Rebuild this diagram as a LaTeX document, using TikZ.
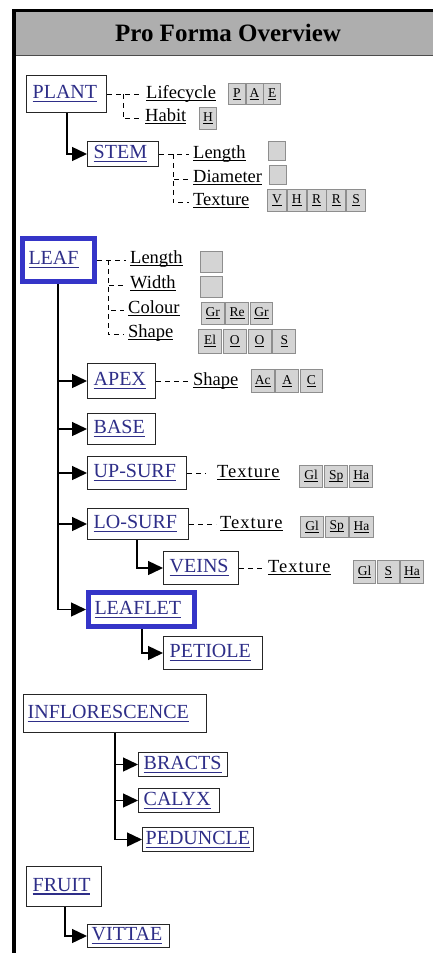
\documentclass[tikz,border=0pt]{standalone}
\usepackage{fontspec}
\setmainfont{Liberation Serif}
\usetikzlibrary{arrows.meta,calc}

\definecolor{linkblue}{HTML}{2E2E88}
\definecolor{frameblue}{HTML}{3535C8}
\definecolor{headgrey}{HTML}{AEAEAE}
\definecolor{cellfill}{HTML}{D4D4D4}
\definecolor{celledge}{HTML}{8E8E8E}

% text with a rule under it, in the current colour
\newcommand\undl[1]{\leavevmode\setbox0\hbox{#1}\rlap{\vrule height -0.11em depth 0.18em width \wd0}\box0}
\newcommand\lnk[1]{\color{linkblue}\undl{#1}}
\newcommand\namefont{\fontsize{20}{22}\selectfont}
\newcommand\attrfont{\fontsize{18.5}{21}\selectfont}
\newcommand\widefont{\addfontfeatures{LetterSpace=5.5}}
\newcommand\cellfont{\fontsize{13.5}{15}\selectfont}
\newcommand\headfont{\fontsize{25}{28}\selectfont\bfseries}

\tikzset{
  nbox/.style={draw=black!85, line width=1.4pt, fill=white, anchor=north west,
    inner xsep=6pt, inner ysep=0pt, align=left, font=\namefont},
  hibox/.style={nbox, draw=frameblue, line width=5pt},
  attr/.style={anchor=base west, inner xsep=4pt, inner ysep=1pt, font=\attrfont},
  cellbox/.style={draw=celledge, fill=cellfill, line width=0.9pt, anchor=north west,
    inner sep=0pt, font=\cellfont},
  trunk/.style={line width=1.4pt, draw=black},
  arr/.style={trunk, -{Triangle[length=15pt,width=14pt]}},
  dsh/.style={line width=1pt, dash pattern=on 5pt off 4pt},
}

% a row of value cells: name, x, y, pitch, width, height, letters
\newcommand\cellrow[7]{%
  \foreach \cv [count=\ci from 0] in {#7}{%
    \node[cellbox, minimum width=#5pt, minimum height=#6pt] (#1\ci) at ({#2+\ci*#4},#3) {\undl{\cv}};
  }%
}

\begin{document}
\begin{tikzpicture}[x=1pt, y=-1pt]
\useasboundingbox (0,0) rectangle (433,953);
\fill[white] (0,0) rectangle (433,953);

% frame and title bar
\fill[headgrey] (16,11.5) rectangle (433,55);
\draw[black!70, line width=1pt] (16,55.5) -- (433,55.5);
\fill[black] (12,9) rectangle (433,11.5);
\fill[black] (12,9) rectangle (16,953);
\node[font=\headfont] (title) at (228,33) {Pro Forma Overview};

% ---------- PLANT ----------
\node[nbox, text width=67.6pt, minimum height=36.6pt] (plant) at (26,75) {\lnk{PLANT}};
\node[nbox, text width=58.6pt, minimum height=24.6pt] (stem) at (87,141) {\lnk{STEM}};

\node[attr] (lifecycle) at (142,98) {\undl{Lifecycle}};
\node[attr] (habit) at (141,121) {\undl{Habit}};
\draw[dsh] (plant.east) -- (plant.east -| lifecycle.west);
\draw[dsh] ($(plant.east)+(16,0)$) |- (habit.mid west);
\cellrow{lifec}{228}{83}{17.7}{16.8}{21}{P,A,E}
\cellrow{habc}{199}{107}{18}{17}{22}{H}

\draw[arr] ($(plant.south west)+(41,0)$) |- (stem.west);

\node[attr] (stemlen) at (189,158) {\undl{Length}};
\node[attr] (stemdia) at (189,182) {\undl{Diameter}};
\node[attr] (stemtex) at (189,205) {\undl{Texture}};
\draw[dsh] (stem.east) -- (stem.east -| stemlen.west);
\draw[dsh] ($(stem.east)+(14,0)$) |- (stemdia.mid west);
\draw[dsh] ($(stem.east)+(14,0)$) |- (stemtex.mid west);
\node[cellbox, minimum width=17pt, minimum height=19pt] (stemlenv) at (268,141) {};
\node[cellbox, minimum width=17pt, minimum height=19pt] (stemdiav) at (269,165) {};
\cellrow{stemtexc}{267}{189}{19.8}{18.9}{22}{V,H,R,R,S}

% ---------- LEAF ----------
\node[hibox, text width=60pt, minimum height=43pt] (leaf) at (20,236) {\lnk{LEAF}};
\node[attr] (leaflen) at (126,263) {\undl{Length}};
\node[attr] (leafwid) at (126,288) {\undl{Width}};
\node[attr] (leafcol) at (124,313) {\undl{Colour}};
\node[attr] (leafshp) at (124,337) {\undl{Shape}};
\draw[dsh] (leaf.east) -- (leaf.east -| leaflen.west);
\draw[dsh] ($(leaf.east)+(11,0)$) |- (leafwid.mid west);
\draw[dsh] ($(leaf.east)+(11,0)$) |- (leafcol.mid west);
\draw[dsh] ($(leaf.east)+(11,0)$) |- (leafshp.mid west);
\node[cellbox, minimum width=22pt, minimum height=21pt] (leaflenv) at (200,251) {};
\node[cellbox, minimum width=22pt, minimum height=21pt] (leafwidv) at (200,276) {};
\cellrow{leafcolc}{201}{302}{24.3}{22.8}{22}{Gr,Re,Gr}
\cellrow{leafshpc}{198}{329}{24.75}{23.2}{24}{El,O,O,S}

\node[nbox, text width=55.6pt, minimum height=34.6pt] (apex) at (87,363) {\lnk{APEX}};
\node[nbox, text width=55.6pt, minimum height=30.6pt] (base) at (87,413) {\lnk{BASE}};
\node[nbox, text width=86.6pt, minimum height=32.6pt] (upsurf) at (87,456) {\lnk{UP-SURF}};
\node[nbox, text width=88.6pt, minimum height=30.6pt] (losurf) at (87,508) {\lnk{LO-SURF}};
\node[nbox, text width=62.6pt, minimum height=32.6pt] (veins) at (163,551) {\lnk{VEINS}};
\node[hibox, text width=94pt, minimum height=34pt] (leaflet) at (86,590) {\lnk{LEAFLET}};
\node[nbox, text width=86.6pt, minimum height=32.6pt] (petiole) at (163,636) {\lnk{PETIOLE}};

\coordinate (leaftrunk) at ($(leaf.south west)+(38,0)$);
\draw[arr] (leaftrunk) |- (leaflet.west);
\draw[arr] (leaftrunk |- apex.west) -- (apex.west);
\draw[arr] (leaftrunk |- base.west) -- (base.west);
\draw[arr] (leaftrunk |- upsurf.west) -- (upsurf.west);
\draw[arr] (leaftrunk |- losurf.west) -- (losurf.west);
\draw[arr] ($(losurf.south west)+(50,0)$) |- (veins.west);
\draw[arr] ($(leaflet.south west)+(56,0)$) |- (petiole.west);

\node[attr] (apexshp) at (189,385) {\undl{Shape}};
\draw[dsh] (apex.east) -- (apex.east -| apexshp.west);
\cellrow{apexc}{251}{369}{24.3}{22.8}{23}{Ac,A,C}

\node[attr] (uptex) at (213,477) {\widefont\undl{Texture}};
\draw[dsh] (upsurf.east) -- ($(upsurf.east)+(19,0)$);
\cellrow{upc}{299}{465}{25}{23.4}{22}{Gl,Sp,Ha}

\node[attr] (lotex) at (216,528) {\widefont\undl{Texture}};
\draw[dsh] (losurf.east) -- (losurf.east -| lotex.west);
\cellrow{loc}{300}{516}{24.7}{23.2}{21}{Gl,Sp,Ha}

\node[attr] (veintex) at (264,572) {\widefont\undl{Texture}};
\draw[dsh] (veins.east) -- (veins.east -| veintex.west);
\cellrow{veinc}{353}{560}{23.7}{22.2}{23}{Gl,S,Ha}

% ---------- INFLORESCENCE ----------
\node[nbox, inner xsep=4pt, text width=174.6pt, minimum height=37.6pt] (inflor) at (23,694) {\lnk{INFLORESCENCE}};
\node[nbox, inner xsep=5pt, text width=78.6pt, minimum height=23.6pt] (bracts) at (138,752) {\lnk{BRACTS}};
\node[nbox, inner xsep=5pt, text width=70.6pt, minimum height=23.6pt] (calyx) at (138,788) {\lnk{CALYX}};
\node[nbox, inner xsep=3pt, text width=104.6pt, minimum height=23.6pt] (peduncle) at (142,827) {\lnk{PEDUNCLE}};
\coordinate (inftrunk) at ($(inflor.south west)+(92,0)$);
\draw[arr] (inftrunk) |- (peduncle.west);
\draw[arr] (inftrunk |- bracts.west) -- (bracts.west);
\draw[arr] (inftrunk |- calyx.west) -- (calyx.west);

% ---------- FRUIT ----------
\node[nbox, text width=62.6pt, minimum height=39.6pt] (fruit) at (26,866) {\lnk{FRUIT}};
\node[nbox, inner xsep=4pt, text width=73.6pt, minimum height=22.6pt] (vittae) at (87,924) {\lnk{VITTAE}};
\draw[arr] ($(fruit.south west)+(39,0)$) |- (vittae.west);
\end{tikzpicture}
\end{document}
